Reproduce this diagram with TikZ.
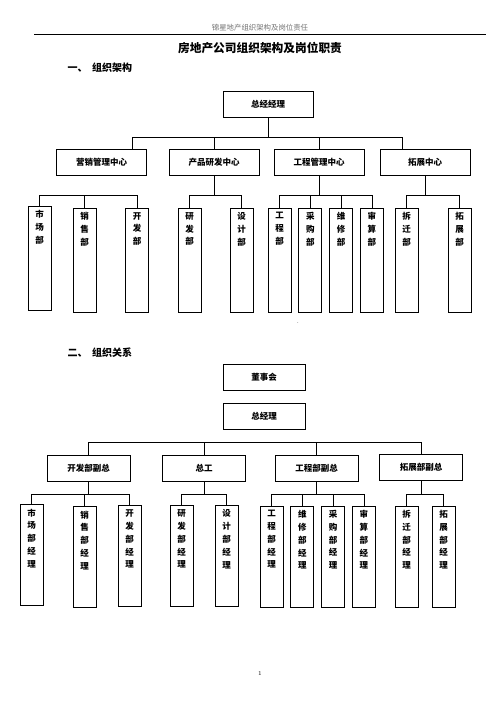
\documentclass[tikz,border=0pt]{standalone}
\usepackage{fontspec}
\newfontfamily\cjk{Noto Sans CJK SC}
\usetikzlibrary{positioning,calc}

\begin{document}
\begin{tikzpicture}[
    x=1pt, y=-1pt,
    link/.style={draw, line width=0.8pt},
    chief/.style={rectangle, draw, line width=0.8pt, minimum width=90pt, minimum height=26pt, font=\cjk\bfseries\fontsize{8.5}{10}\selectfont},
    unit/.style={rectangle, draw, line width=0.8pt, minimum width=90pt, minimum height=26pt, font=\cjk\bfseries\fontsize{8.5}{10}\selectfont},
    vice/.style={unit, minimum width=83pt},
    dept/.style={rectangle, draw, line width=0.8pt, minimum width=23pt, minimum height=104pt, inner sep=0pt, label={[depttext]north:{#1}}},
    mgr/.style={dept={#1}, minimum height=101pt},
    depttext/.style={anchor=north, yshift=-4.5pt, align=center, inner sep=0pt, font=\cjk\bfseries\fontsize{8.5}{12.8}\selectfont},
    heading/.style={anchor=west, font=\cjk\bfseries\fontsize{10}{12}\selectfont}
  ]
  \useasboundingbox (0,0) rectangle (496,702);

  % Page header and title
  \node[font=\cjk\fontsize{7.4}{9}\selectfont, text=black!55] (hdr) at (260,28) {锦星地产组织架构及岗位责任};
  \draw[line width=0.8pt] (34,34) -- (486,34);
  \node[font=\cjk\bfseries\fontsize{11.7}{14}\selectfont] (title) at (260,48) {房地产公司组织架构及岗位职责};
  \node[heading] (sec1) at (64,68) {一、\hspace{0.45em}组织架构};

  % Part one: structure
  \node[chief] (gm) at (268,104) {总经经理};

  \node[unit] (yx) at (101.5,162) {营销管理中心};
  \node[unit] (cp) at (214,162) {产品研发中心};
  \node[unit] (gc) at (319,162) {工程管理中心};
  \node[unit] (tz) at (425,162) {拓展中心};

  \node[dept={市\\场\\部}] (sc) at (39.5,258) {};
  \node[dept={销\\售\\部}] (xs) at (84.5,260) {};
  \node[dept={开\\发\\部}] (kf) at (137,260) {};
  \node[dept={研\\发\\部}] (yf) at (189.5,260) {};
  \node[dept={设\\计\\部}] (sj) at (241.5,260) {};
  \node[dept={工\\程\\部}] (gcb) at (279.5,260) {};
  \node[dept={采\\购\\部}, right=7pt of gcb] (cg) {};
  \node[dept={维\\修\\部}, right=7pt of cg] (wx) {};
  \node[dept={审\\算\\部}, right=7pt of wx] (ss) {};
  \node[dept={拆\\迁\\部}] (cq) at (406.5,260) {};
  \node[dept={拓\\展\\部}] (tzb) at (459.5,260) {};

  \node (dot) at (298,323) {\fontsize{6}{7}\selectfont .};

  % Part one: connectors
  \coordinate (a1) at (132,137);
  \coordinate (a2) at (402,137);
  \coordinate (busB) at (0,195);
  \draw[link] (a1) -- (a2);
  \draw[link] (gm.south) -- (gm.south |- a1);
  \draw[link] (a1) -- (a1 |- yx.north);
  \draw[link] (cp.north) -- (cp.north |- a1);
  \draw[link] (gc.north) -- (gc.north |- a1);
  \draw[link] (a2) -- (a2 |- tz.north);

  \draw[link] (sc.north) |- (kf.north |- busB) -- (kf.north);
  \draw[link] (xs.north) -- (xs.north |- busB);
  \draw[link] (yf.north) |- (sj.north |- busB) -- (sj.north);
  \draw[link] (cp.south) -- (cp.south |- busB);
  \draw[link] (gcb.north) |- (ss.north |- busB) -- (ss.north);
  \draw[link] (cg.north) -- (cg.north |- busB);
  \draw[link] (wx.north) -- (wx.north |- busB);
  \draw[link] (gc.south) -- (gc.south |- busB);
  \draw[link] (cq.north) |- (tzb.north |- busB) -- (tzb.north);
  \draw[link] (tz.south) -- (tz.south |- busB);

  % Part two: relations
  \node[heading] (sec2) at (64,353) {二、\hspace{0.45em}组织关系};

  \node[chief, minimum width=82pt] (board) at (264,377) {董事会};
  \node[chief, minimum width=82pt] (ceo) at (264,416) {总经理};

  \node[vice] (vkf) at (88.5,468) {开发部副总};
  \node[vice] (zg) at (204,468) {总工};
  \node[vice] (vgc) at (316.5,468) {工程部副总};
  \node[vice] (vtz) at (421,467) {拓展部副总};

  \node[mgr={市\\场\\部\\经\\理}] (msc) at (31.5,555) {};
  \node[mgr={销\\售\\部\\经\\理}] (mxs) at (84.5,557) {};
  \node[mgr={开\\发\\部\\经\\理}] (mkf) at (129.5,556) {};
  \node[mgr={研\\发\\部\\经\\理}] (myf) at (181.5,556) {};
  \node[mgr={设\\计\\部\\经\\理}] (msj) at (226.5,556) {};
  \node[mgr={工\\程\\部\\经\\理}] (mgcb) at (271.5,556.5) {};
  \node[mgr={维\\修\\部\\经\\理}, right=7pt of mgcb] (mwx) {};
  \node[mgr={采\\购\\部\\经\\理}, right=7pt of mwx] (mcg) {};
  \node[mgr={审\\算\\部\\经\\理}, right=7pt of mcg] (mss) {};
  \node[mgr={拆\\迁\\部\\经\\理}] (mcq) at (406.5,556.5) {};
  \node[mgr={拓\\展\\部\\经\\理}] (mtz) at (443.5,556.5) {};

  % Part two: connectors
  \coordinate (busC) at (0,442);
  \coordinate (busD) at (0,494);
  \draw[link] (vkf.north) |- (vtz.north |- busC) -- (vtz.north);
  \draw[link] (zg.north) -- (zg.north |- busC);
  \draw[link] (vgc.north) -- (vgc.north |- busC);

  \draw[link] (msc.north) |- (mkf.north |- busD) -- (mkf.north);
  \draw[link] (mxs.north) -- (mxs.north |- busD);
  \draw[link] (vkf.south) -- (vkf.south |- busD);
  \draw[link] (myf.north) |- (msj.north |- busD) -- (msj.north);
  \draw[link] (zg.south) -- (zg.south |- busD);
  \draw[link] (mgcb.north) |- (mss.north |- busD) -- (mss.north);
  \draw[link] (mwx.north) -- (mwx.north |- busD);
  \draw[link] (mcg.north) -- (mcg.north |- busD);
  \draw[link] (vgc.south) -- (vgc.south |- busD);
  \draw[link] (mcq.north) |- (mtz.north |- busD) -- (mtz.north);
  \draw[link] (vtz.south) -- (vtz.south |- busD);

  % Page number
  \node (pg) at (260,673) {\fontsize{6}{7}\selectfont 1};
\end{tikzpicture}
\end{document}
